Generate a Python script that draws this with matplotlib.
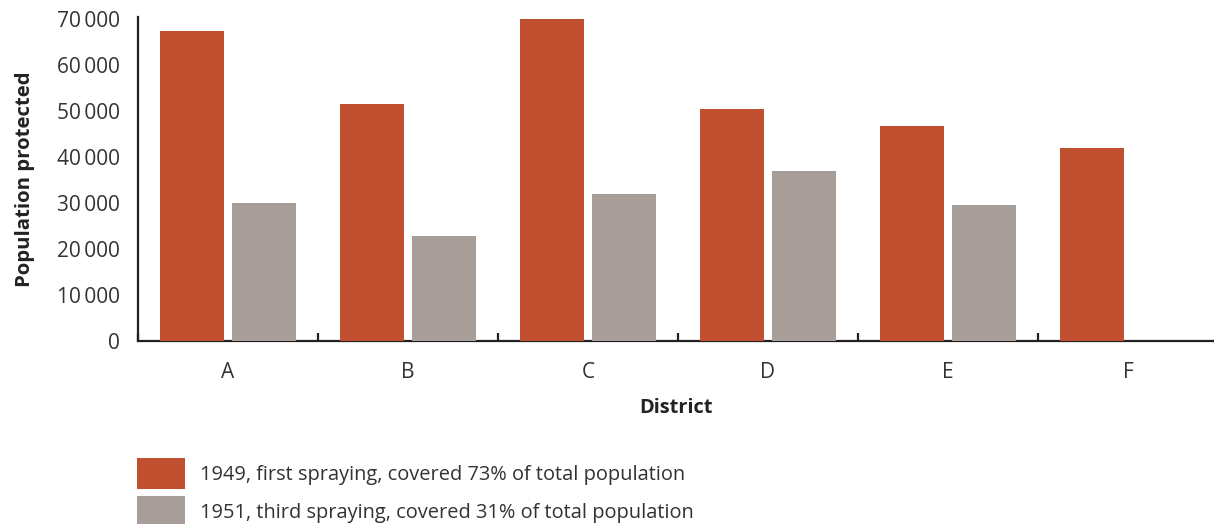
import matplotlib
matplotlib.use("Agg")
import matplotlib.pyplot as plt
import numpy as np
from matplotlib.ticker import FixedLocator, FuncFormatter

districts = ["A", "B", "C", "D", "E", "F"]
first_1949 = [67500, 51500, 70000, 50500, 46700, 42000]
third_1951 = [30000, 22800, 31900, 36900, 29700, 0]
labels = ["1949, first spraying, covered 73% of total population",
          "1951, third spraying, covered 31% of total population"]
yticks = [0, 10000, 20000, 30000, 40000, 50000, 60000, 70000]

red = "#c0502f"
grey = "#a79d99"
txt = "#333333"
plt.rcParams['font.family'] = ['Open Sans', 'DejaVu Sans']

fig = plt.figure(figsize=(12.14, 5.24), dpi=100)
ax = fig.add_axes([138/1214, 1-341/524, 1-138/1214, (341-17)/524])

x = np.arange(len(districts))
b1 = ax.bar(x - 0.2, first_1949, width=0.36, color=red, zorder=3, label=labels[0])
b2 = ax.bar(x + 0.2, third_1951, width=0.36, color=grey, zorder=3, label=labels[1])

ax.set_xlim(-0.5, 1076/180 - 0.5)
ax.set_ylim(0, 70500)
ax.set_yticks(yticks)
ax.yaxis.set_major_formatter(FuncFormatter(lambda v, p: f"{int(v):,}".replace(",", "\u2009")))
ax.set_xticks(x)
ax.set_xticklabels(districts)
ax.xaxis.set_minor_locator(FixedLocator(np.arange(len(districts)) - 0.5))

for s in ["top", "right"]:
    ax.spines[s].set_visible(False)
for s in ["left", "bottom"]:
    ax.spines[s].set_color("#231f20")
    ax.spines[s].set_linewidth(1.6)

ax.tick_params(axis="y", length=0, pad=13, labelsize=15, labelcolor=txt)
ax.tick_params(axis="x", which="major", length=0, pad=15, labelsize=15, labelcolor=txt)
ax.tick_params(axis="x", which="minor", direction="in", length=6, width=1.6, color="#231f20")

ax.set_ylabel("Population protected", fontsize=14.7, fontweight="bold", color="#222222", labelpad=16)
ax.set_xlabel("District", fontsize=14.4, fontweight="bold", color="#222222", labelpad=11)

fig.legend(handles=[b1, b2], labels=labels, loc="upper left",
           bbox_to_anchor=(137/1214, 1-458/524), frameon=False, fontsize=14.4,
           handlelength=2.4, handleheight=2.0, handletextpad=0.75,
           labelspacing=0.35, borderpad=0, borderaxespad=0, labelcolor=txt)

fig.savefig("out.png", dpi=100)
